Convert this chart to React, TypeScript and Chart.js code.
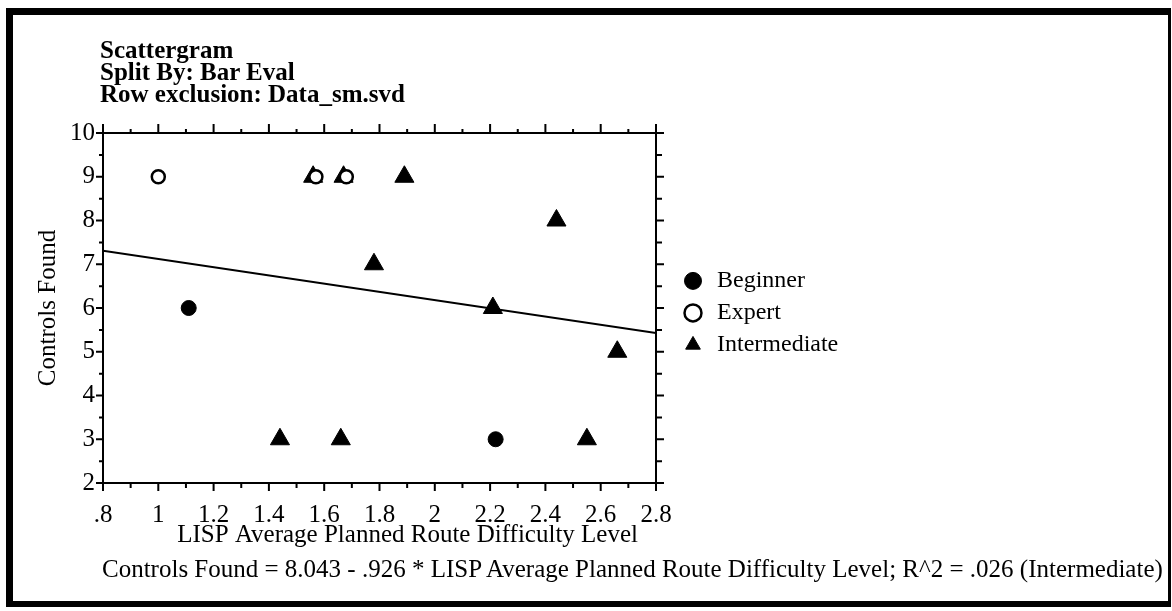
import React, { useEffect, useRef } from 'react';
import { Chart, registerables } from 'chart.js';

Chart.register(...registerables);

// ---- data ----
const TITLE_LINES = ['Scattergram', 'Split By: Bar Eval', 'Row exclusion: Data_sm.svd'];
const SERIES_NAMES = ['Beginner', 'Expert', 'Intermediate'];
const BEGINNER_X = [1.11, 2.22];
const BEGINNER_Y = [6, 3];
const EXPERT_X = [1.0, 1.57, 1.68];
const EXPERT_Y = [9, 9, 9];
const INTER_X = [1.44, 1.56, 1.66, 1.67, 1.78, 1.89, 2.21, 2.44, 2.55, 2.66];
const INTER_Y = [3, 9, 3, 9, 7, 9, 6, 8, 3, 5];
const FIT_X = [0.8, 2.8];
const FIT_Y = [7.31, 5.43];
const X_MIN = 0.8;
const X_MAX = 2.8;
const X_STEP = 0.2;
const Y_MIN = 2;
const Y_MAX = 10;
const Y_STEP = 1;
const X_TITLE = 'LISP Average Planned Route Difficulty Level';
const Y_TITLE = 'Controls Found';
const EQUATION =
  'Controls Found = 8.043 - .926 * LISP Average Planned Route Difficulty Level; R^2 = .026 (Intermediate)';

const FONT = "'Liberation Serif', 'Times New Roman', serif";
const LEGEND_BOX_WIDTH = 200;

const pts = (xs: number[], ys: number[]) => xs.map((x, i) => ({ x, y: ys[i] }));

const fmtX = (v: number) => {
  const s = String(Math.round(v * 10) / 10);
  return s.startsWith('0.') ? s.slice(1) : s;
};

const tickMarks = {
  id: 'tickMarks',
  afterDraw(chart: any) {
    const ctx = chart.ctx;
    const xs = chart.scales.x;
    const ys = chart.scales.y;
    const a = chart.chartArea;
    ctx.save();
    ctx.strokeStyle = '#000';
    ctx.lineWidth = 2;
    ctx.beginPath();
    const nx = Math.round((xs.max - xs.min) / (X_STEP / 2));
    for (let k = 0; k <= nx; k++) {
      const px = xs.getPixelForValue(xs.min + (k * X_STEP) / 2);
      const major = k % 2 === 0;
      ctx.moveTo(px, a.bottom);
      ctx.lineTo(px, a.bottom + (major ? 8 : 5));
      ctx.moveTo(px, a.top);
      ctx.lineTo(px, a.top - (major ? 9 : 4));
    }
    const ny = Math.round((ys.max - ys.min) / (Y_STEP / 2));
    for (let k = 0; k <= ny; k++) {
      const py = ys.getPixelForValue(ys.min + (k * Y_STEP) / 2);
      const major = k % 2 === 0;
      ctx.moveTo(a.left, py);
      ctx.lineTo(a.left - (major ? 7 : 4), py);
      ctx.moveTo(a.right, py);
      ctx.lineTo(a.right + (major ? 8 : 6), py);
    }
    ctx.stroke();
    ctx.restore();
  },
};

// keep the legend box at a fixed width so its items sit right of the plot
const legendWidthFix = {
  id: 'legendWidthFix',
  beforeLayout(chart: any) {
    const lg = chart.legend;
    if (lg && !lg.__fixed) {
      const orig = lg.fit;
      lg.fit = function (this: any) {
        orig.call(this);
        this.width = LEGEND_BOX_WIDTH;
      };
      lg.__fixed = true;
    }
  },
};

export default function App() {
  const ref = useRef<HTMLCanvasElement | null>(null);

  useEffect(() => {
    if (!ref.current) return;
    const axisBorder = { display: true, color: '#000', width: 2 };
    const chart = new Chart(ref.current, {
      type: 'scatter',
      data: {
        datasets: [
          {
            label: SERIES_NAMES[0],
            data: pts(BEGINNER_X, BEGINNER_Y),
            pointStyle: 'circle',
            pointRadius: 7.5,
            backgroundColor: '#000',
            borderColor: '#000',
            borderWidth: 1,
          },
          {
            label: SERIES_NAMES[1],
            data: pts(EXPERT_X, EXPERT_Y),
            pointStyle: 'circle',
            pointRadius: 6.5,
            backgroundColor: '#fff',
            borderColor: '#000',
            borderWidth: 2.5,
          },
          {
            label: SERIES_NAMES[2],
            data: pts(INTER_X, INTER_Y),
            pointStyle: 'triangle',
            pointRadius: 11,
            backgroundColor: '#000',
            borderColor: '#000',
            borderWidth: 1,
          },
          {
            label: 'fit',
            data: pts(FIT_X, FIT_Y),
            showLine: true,
            pointRadius: 0,
            borderColor: '#000',
            backgroundColor: '#000',
            borderWidth: 2,
          } as any,
        ],
      },
      options: {
        animation: false,
        responsive: false,
        events: [],
        layout: { padding: { left: 0, top: 0, bottom: 0, right: 299 } },
        plugins: {
          tooltip: { enabled: false },
          title: { display: false },
          legend: {
            display: true,
            position: 'right',
            align: 'center',
            title: { display: true, text: ' ', font: { size: 9 }, padding: 2 },
            labels: {
              usePointStyle: true,
              boxHeight: 12,
              padding: 8,
              color: '#000',
              font: { family: FONT, size: 24 },
              filter: (item: any) => item.datasetIndex < 3,
            },
          },
        },
        scales: {
          x: {
            type: 'linear',
            position: 'bottom',
            min: X_MIN,
            max: X_MAX,
            grid: { display: false },
            border: axisBorder,
            ticks: {
              stepSize: X_STEP,
              padding: 9,
              color: '#000',
              font: { family: FONT, size: 25 },
              maxRotation: 0,
              autoSkip: false,
              callback: (v: any) => fmtX(Number(v)),
            },
            title: {
              display: true,
              text: '\u00a0'.repeat(9) + X_TITLE,
              color: '#000',
              font: { family: FONT, size: 25 },
              padding: { top: 0, bottom: 61 },
            },
            afterFit: (s: any) => {
              s.height = 128;
            },
          },
          x2: {
            type: 'linear',
            position: 'top',
            min: X_MIN,
            max: X_MAX,
            grid: { display: false },
            border: axisBorder,
            ticks: { display: false },
            afterFit: (s: any) => {
              s.height = 133;
            },
          },
          y: {
            type: 'linear',
            position: 'left',
            min: Y_MIN,
            max: Y_MAX,
            grid: { display: false },
            border: axisBorder,
            ticks: {
              stepSize: Y_STEP,
              padding: 0,
              color: '#000',
              font: { family: FONT, size: 25 },
            },
            title: {
              display: true,
              text: Y_TITLE,
              color: '#000',
              font: { family: FONT, size: 25 },
              padding: { top: 33, bottom: 0 },
            },
            afterFit: (s: any) => {
              s.width = 103;
            },
          },
          y2: {
            type: 'linear',
            position: 'right',
            min: Y_MIN,
            max: Y_MAX,
            grid: { display: false },
            border: axisBorder,
            ticks: { display: false },
            afterFit: (s: any) => {
              s.width = 17;
            },
          },
        } as any,
      },
      plugins: [tickMarks, legendWidthFix],
    } as any);
    return () => chart.destroy();
  }, []);

  return (
    <div style={{ position: 'absolute', left: 0, top: 0, width: 1172, height: 611, background: '#fff' }}>
      <canvas ref={ref} width={1172} height={611} style={{ position: 'absolute', left: 0, top: 0, width: 1172, height: 611 }} />
      <div
        style={{
          position: 'absolute',
          left: 100,
          top: 39,
          fontFamily: FONT,
          fontWeight: 'bold',
          fontSize: 25,
          lineHeight: '22px',
          color: '#000',
          whiteSpace: 'pre',
        }}
      >
        {TITLE_LINES.map((t, i) => (
          <div key={i}>{t}</div>
        ))}
      </div>
      <div
        style={{
          position: 'absolute',
          left: 102,
          top: 556,
          fontFamily: FONT,
          fontSize: 25,
          lineHeight: '25px',
          color: '#000',
          whiteSpace: 'pre',
        }}
      >
        {EQUATION}
      </div>
      <div
        style={{
          position: 'absolute',
          left: 6,
          top: 8,
          width: 1165,
          height: 599,
          boxSizing: 'border-box',
          borderStyle: 'solid',
          borderColor: '#000',
          borderWidth: '7px 3px 6px 7px',
          pointerEvents: 'none',
        }}
      />
    </div>
  );
}
